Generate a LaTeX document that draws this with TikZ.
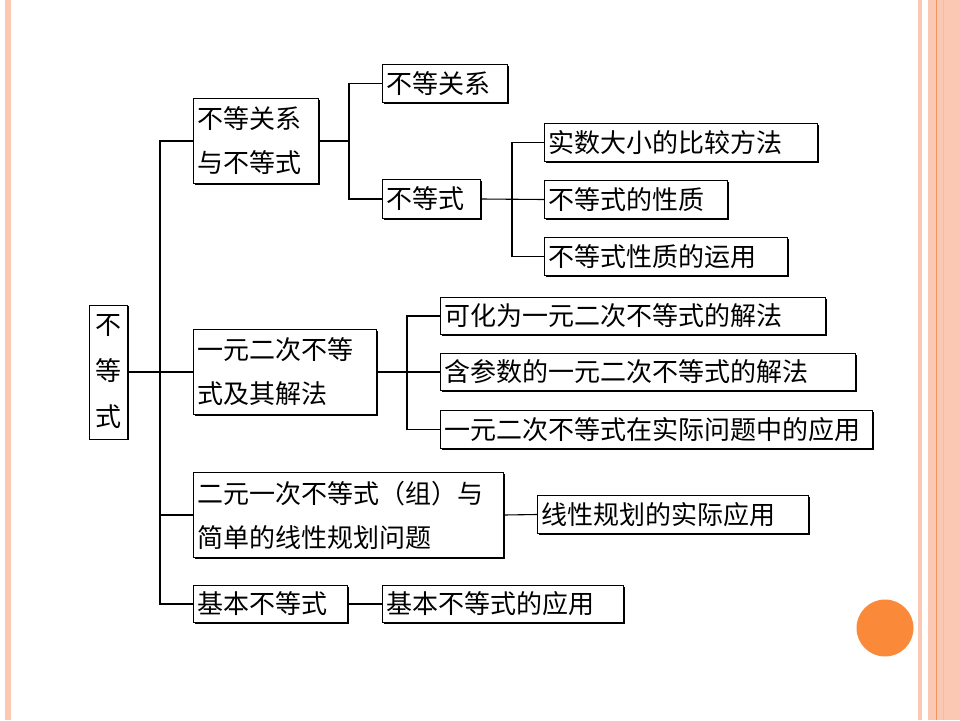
\documentclass[tikz,border=0pt]{standalone}
\usepackage{fontspec}
\setmainfont{Noto Sans CJK SC}
\usetikzlibrary{shadows}
\definecolor{peach}{RGB}{251,200,180}
\definecolor{peachline}{RGB}{241,150,95}
\definecolor{dot}{RGB}{250,138,58}
\tikzset{
  box/.style={draw, fill=white, line width=1pt, anchor=north west, inner xsep=4pt, inner ysep=0pt,
    align=left, font=\fontsize{26}{44}\selectfont,
    drop shadow={shadow xshift=1.2pt, shadow yshift=-1.2pt, opacity=1, fill=black}},
  link/.style={line width=1.1pt}
}
\begin{document}
\begin{tikzpicture}[x=1pt,y=-1pt]
  \useasboundingbox (0,0) rectangle (960,720);
  % page frame
  \fill[peach] (5,0) rectangle (11,720);
  \fill[peach] (918,0) rectangle (922,720);
  \fill[peach] (928,0) rectangle (960,720);
  \draw[peachline, line width=1pt] (936,0) -- (936,720);
  \draw[peach!75!peachline, line width=1pt] (943.5,0) -- (943.5,720);
  \fill[dot] (885,628) circle[radius=28.5pt];

  \node[box, text width=30pt, minimum height=134pt, align=center, font=\fontsize{26}{46}\selectfont] (root) at (89,304.5) {不\\等\\式};

  \node[box, text width=117pt, minimum height=85pt] (rel) at (193,98) {不等关系\\与不等式};
  \node[box, text width=175pt, minimum height=85pt] (quad) at (193,329) {一元二次不等\\式及其解法};
  \node[box, text width=302pt, minimum height=85pt] (lin) at (193,472) {二元一次不等式（组）与\\简单的线性规划问题};
  \node[box, text width=146pt, minimum height=37pt] (basic) at (193,585) {基本不等式};
  \node[box, text width=233pt, minimum height=37pt] (basicuse) at (382,585) {基本不等式的应用};

  \node[box, text width=117pt, minimum height=38pt] (relonly) at (382,64) {不等关系};
  \node[box, text width=90pt, minimum height=39pt] (ineq) at (382,179) {不等式};
  \node[box, text width=265pt, minimum height=38pt] (cmp) at (544,123) {实数大小的比较方法};
  \node[box, text width=175pt, minimum height=38pt] (prop) at (544,180) {不等式的性质};
  \node[box, text width=235pt, minimum height=38pt] (propuse) at (544,237) {不等式性质的运用};

  \node[box, text width=377pt, minimum height=37pt] (solve) at (440,297) {可化为一元二次不等式的解法};
  \node[box, text width=407pt, minimum height=37pt] (param) at (440,353) {含参数的一元二次不等式的解法};
  \node[box, text width=424pt, minimum height=38pt] (app) at (440,410) {一元二次不等式在实际问题中的应用};

  \node[box, text width=263pt, minimum height=38pt] (lpuse) at (537,495) {线性规划的实际应用};

  % connectors
  \coordinate (t0) at (160,0);
  \coordinate (t1) at (349,0);
  \coordinate (t2) at (512,0);
  \coordinate (t3) at (407,0);
  \draw[link] (root.east) -- (quad.west);
  \draw[link] (rel.west) -- (rel.west -| t0) -- (basic.west -| t0) -- (basic.west);
  \draw[link] (lin.west) -- (lin.west -| t0);

  \draw[link] (rel.east) -- (rel.east -| t1);
  \draw[link] (relonly.west) -- (relonly.west -| t1) -- (ineq.west -| t1) -- (ineq.west);
  \draw[link] (ineq.east) -- (prop.west);
  \draw[link] (cmp.west) -- (cmp.west -| t2) -- (propuse.west -| t2) -- (propuse.west);

  \draw[link] (quad.east) -- (param.west);
  \draw[link] (solve.west) -- (solve.west -| t3) -- (app.west -| t3) -- (app.west);

  \draw[link] (lin.east) -- (lpuse.west);
  \draw[link] (basic.east) -- (basicuse.west);
\end{tikzpicture}
\end{document}
